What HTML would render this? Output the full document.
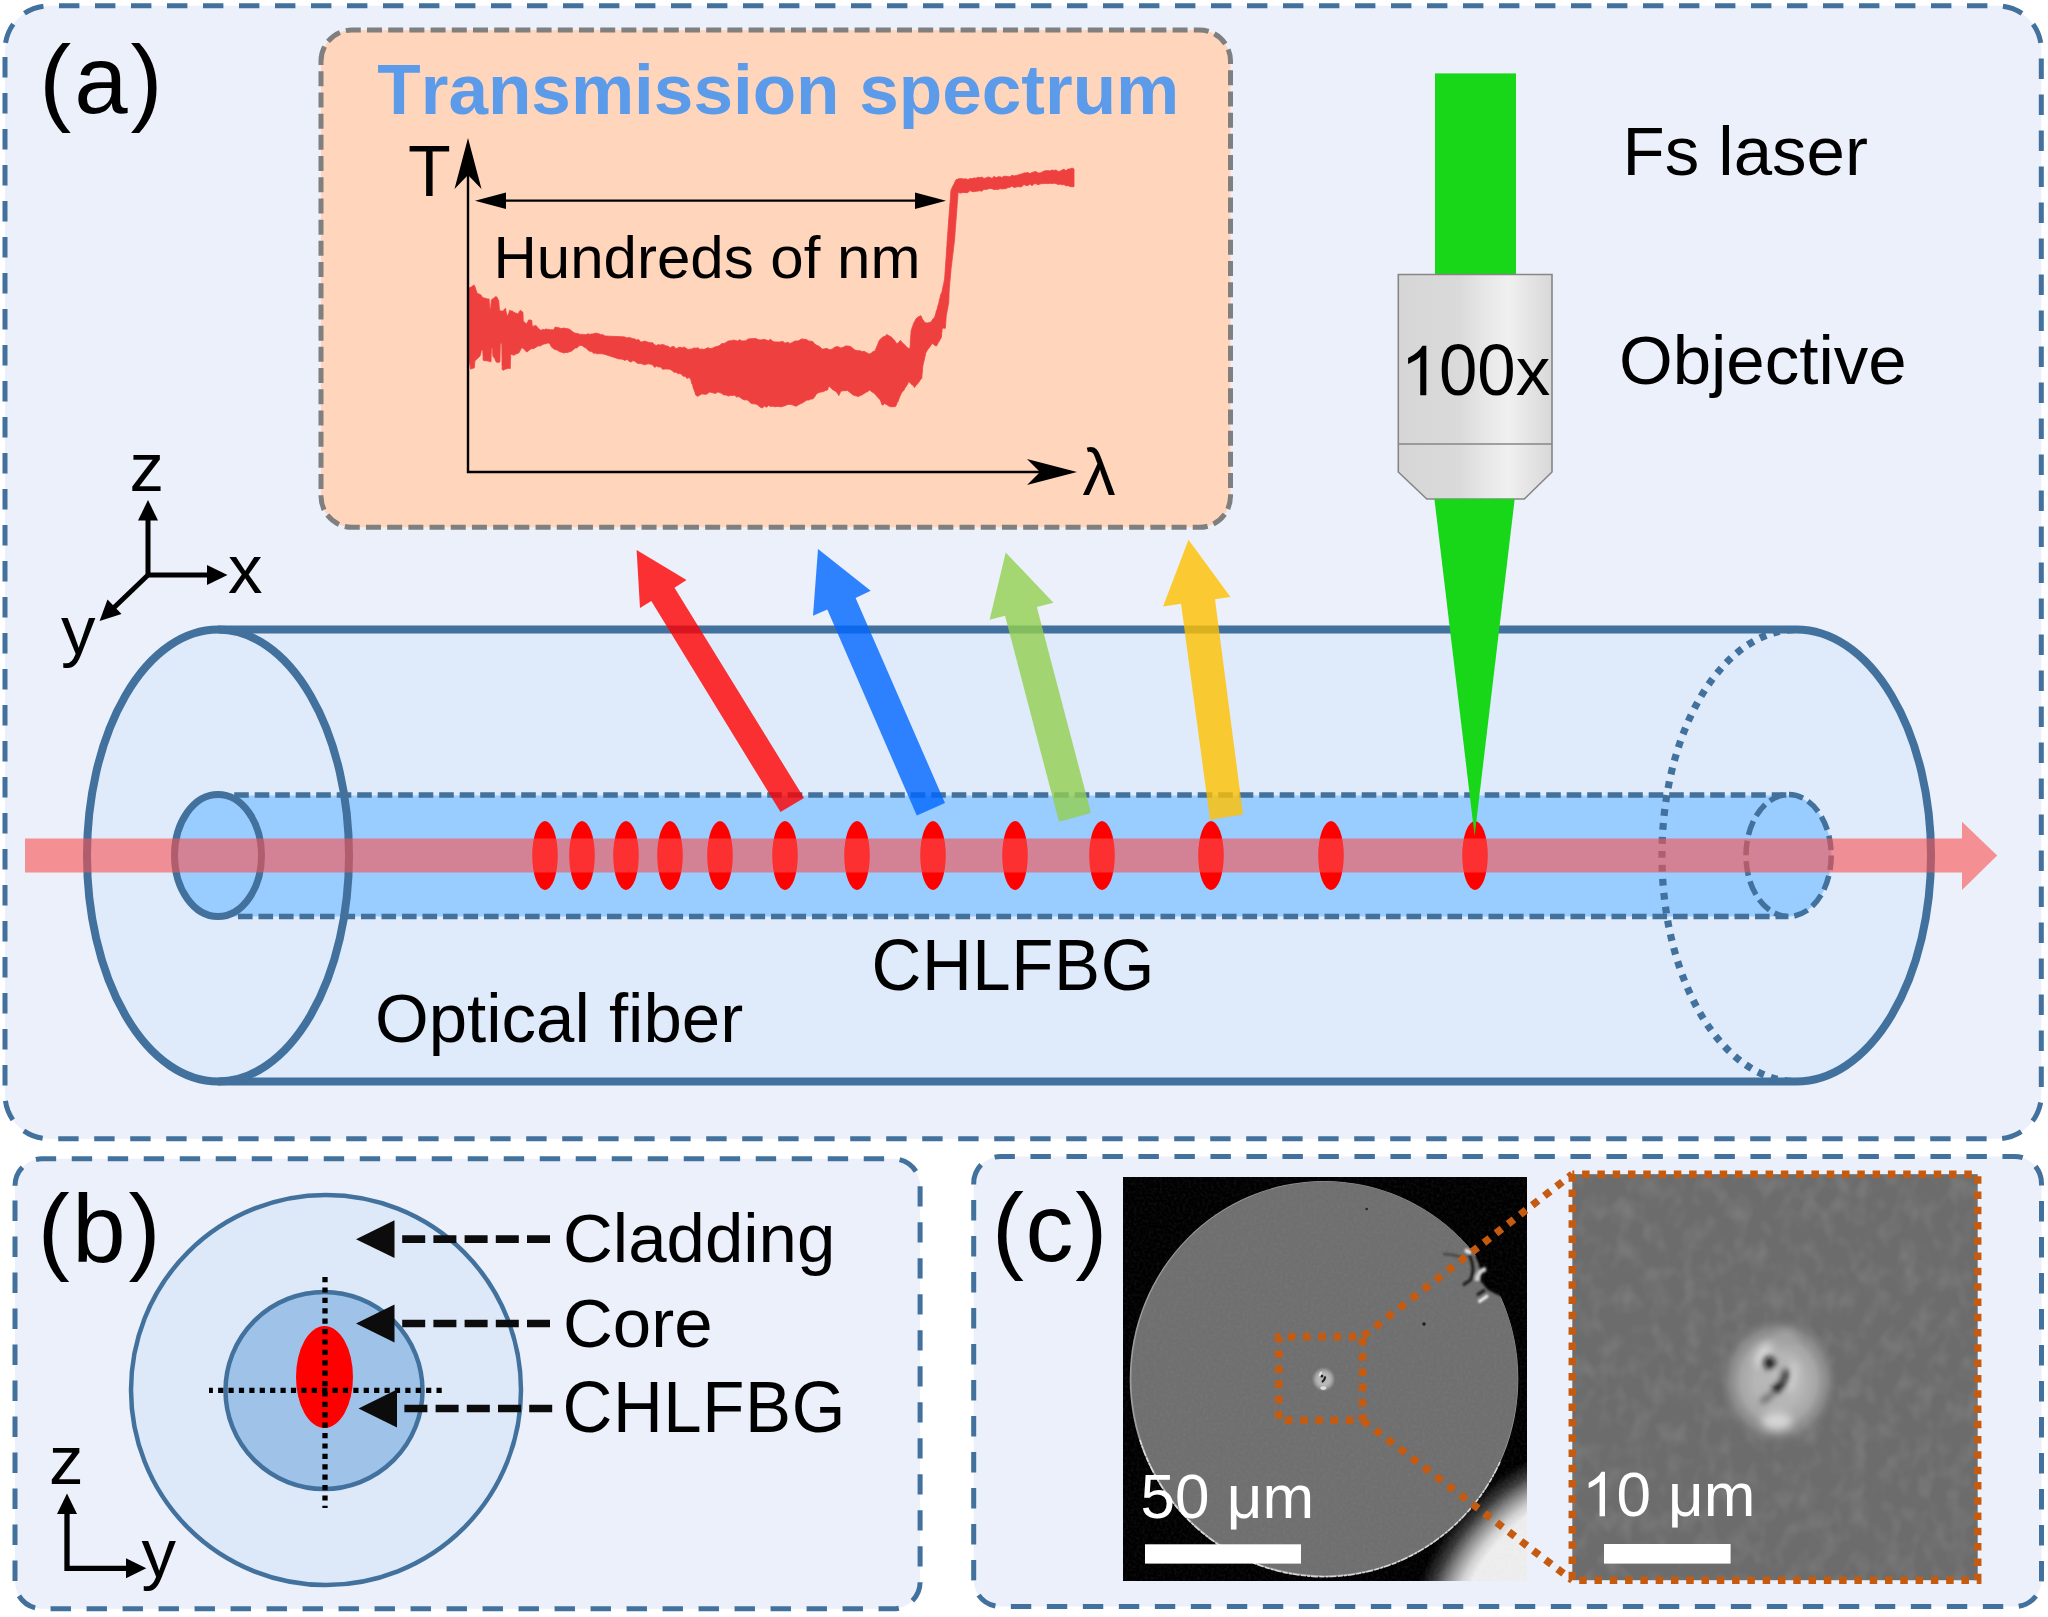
<!DOCTYPE html>
<html><head><meta charset="utf-8"><title>CHLFBG schematic</title>
<style>
html,body{margin:0;padding:0;background:#fff;}
body{width:2048px;height:1617px;overflow:hidden;font-family:"Liberation Sans",sans-serif;}
svg{display:block;}
text{font-family:"Liberation Sans",sans-serif;font-kerning:none;font-variant-ligatures:none;}
</style></head><body>
<svg width="2048" height="1617" viewBox="0 0 2048 1617">
<defs>
<linearGradient id="objg" x1="0" x2="1" y1="0" y2="0">
<stop offset="0" stop-color="#d6d6d6"/><stop offset="0.4" stop-color="#dadada"/><stop offset="0.55" stop-color="#e6e6e6"/><stop offset="0.72" stop-color="#f0f0f0"/><stop offset="0.86" stop-color="#e4e4e4"/><stop offset="1" stop-color="#d8d8d8"/>
</linearGradient>
<radialGradient id="halo" cx="0.5" cy="0.5" r="0.5">
<stop offset="0" stop-color="#b9b9b9"/><stop offset="0.4" stop-color="#b5b5b5"/><stop offset="0.62" stop-color="#a9a9a9" stop-opacity="0.95"/><stop offset="0.8" stop-color="#939393" stop-opacity="0.7"/><stop offset="1" stop-color="#6d6d6d" stop-opacity="0"/>
</radialGradient>
<radialGradient id="halo2" cx="0.5" cy="0.5" r="0.5">
<stop offset="0" stop-color="#b4b4b4"/><stop offset="0.45" stop-color="#b8b8b8"/><stop offset="0.68" stop-color="#a6a6a6" stop-opacity="0.9"/><stop offset="0.85" stop-color="#8a8a8a" stop-opacity="0.6"/><stop offset="1" stop-color="#6f6f6f" stop-opacity="0"/>
</radialGradient>
<radialGradient id="glow" gradientUnits="userSpaceOnUse" cx="1632" cy="1662" r="260">
<stop offset="0" stop-color="#efefef"/><stop offset="0.69" stop-color="#eeeeee"/><stop offset="0.725" stop-color="#d0d0d0"/><stop offset="0.772" stop-color="#8a8a8a"/><stop offset="0.82" stop-color="#383838"/><stop offset="0.875" stop-color="#000"/><stop offset="1" stop-color="#000"/>
</radialGradient>
<clipPath id="semclip"><rect x="1123" y="1177" width="404" height="404"/></clipPath>
<clipPath id="zclip"><rect x="1572.3" y="1174.2" width="405.4" height="406"/></clipPath>
<filter id="grain" x="0" y="0" width="1" height="1"><feTurbulence type="fractalNoise" baseFrequency="0.35" numOctaves="2" seed="3" result="n"/><feColorMatrix in="n" type="matrix" values="0 0 0 0 0.5  0 0 0 0 0.5  0 0 0 0 0.5  0.9 0 0 0 -0.33"/></filter>
<filter id="grain2" x="0" y="0" width="1" height="1"><feTurbulence type="fractalNoise" baseFrequency="0.06 0.045" numOctaves="2" seed="11" result="n"/><feColorMatrix in="n" type="matrix" values="0 0 0 0 0.52  0 0 0 0 0.52  0 0 0 0 0.52  1.2 0 0 0 -0.5"/></filter>
<filter id="b4" x="-100%" y="-100%" width="300%" height="300%"><feGaussianBlur stdDeviation="4.5"/></filter>
<filter id="b25" x="-100%" y="-100%" width="300%" height="300%"><feGaussianBlur stdDeviation="3.1"/></filter>
<filter id="b3" x="-50%" y="-50%" width="200%" height="200%"><feGaussianBlur stdDeviation="3"/></filter>
<filter id="b2" x="-50%" y="-50%" width="200%" height="200%"><feGaussianBlur stdDeviation="2"/></filter>
<filter id="b15" x="-50%" y="-50%" width="200%" height="200%"><feGaussianBlur stdDeviation="1.3"/></filter>
<filter id="b07" x="-50%" y="-50%" width="200%" height="200%"><feGaussianBlur stdDeviation="0.7"/></filter>
<filter id="b1" x="-50%" y="-50%" width="200%" height="200%"><feGaussianBlur stdDeviation="0.9"/></filter>
</defs>
<rect width="2048" height="1617" fill="#fff"/>

<!-- ================= PANEL A ================= -->
<path d="M5 49.8 A44 44 0 0 1 49 5.8 H1997.3 A44 44 0 0 1 2041.3 49.8 V1094.8 A44 44 0 0 1 1997.3 1138.8 H49 A44 44 0 0 1 5 1094.8 Z" fill="#ecf0fa" stroke="#41719c" stroke-width="5" stroke-dasharray="20.4 15.6" stroke-dashoffset="-7"/>
<text x="39.3" y="113" font-size="96" letter-spacing="2.9">(a)</text>

<!-- spectrum box -->
<path d="M321 61 A31 31 0 0 1 352 30 H1199.5 A31 31 0 0 1 1230.5 61 V496.29999999999995 A31 31 0 0 1 1199.5 527.3 H352 A31 31 0 0 1 321 496.29999999999995 Z" fill="#ffd5bb" stroke="#7f7f7f" stroke-width="5" stroke-dasharray="15 6.2"/>
<text x="377.3" y="114" font-size="71.1" font-weight="bold" fill="#5b9bea">Transmission spectrum</text>
<polygon points="468.4,288.4 469.9,287.4 471.4,287.1 472.8,285.6 474.3,285.2 474.8,286.5 475.3,287.6 475.8,289.5 476.3,290.5 476.8,292.3 477.3,293.4 479.1,294.1 481.0,295.1 482.1,297.0 483.2,297.8 485.2,298.2 487.1,298.9 489.1,299.0 489.2,300.6 489.3,302.2 489.4,303.8 489.5,305.4 489.6,307.0 489.7,308.6 490.6,308.6 490.8,306.8 490.9,305.0 491.1,303.3 491.2,301.5 491.4,299.8 493.0,298.7 494.6,297.4 496.2,296.4 497.1,297.6 497.9,299.2 498.8,301.2 498.9,302.8 499.0,304.4 499.1,306.0 499.3,307.6 499.4,309.2 499.5,310.6 501.4,311.1 503.3,311.0 504.4,309.2 505.5,308.3 505.8,309.8 506.1,311.7 506.4,313.1 506.7,314.2 507.0,316.0 507.8,315.6 508.4,314.1 509.0,312.6 509.6,310.2 511.0,311.0 512.4,311.1 513.9,312.3 515.3,313.0 516.7,313.3 518.1,314.2 519.2,311.8 520.3,310.3 521.6,311.3 522.9,312.3 523.0,314.1 523.1,315.9 523.1,317.6 523.2,319.4 523.3,321.4 524.8,322.3 526.3,324.4 527.0,322.8 527.8,321.7 528.5,320.0 530.1,319.9 531.8,320.5 531.9,322.5 532.1,324.4 532.2,326.4 534.0,325.9 535.9,325.6 537.2,326.8 538.5,328.7 539.8,329.3 541.1,330.6 542.6,329.3 544.2,329.8 545.8,329.0 547.4,329.3 548.9,329.4 550.5,329.8 552.1,329.7 553.7,329.8 555.2,327.0 556.8,327.4 558.5,327.5 560.1,328.3 561.8,328.6 563.4,328.1 565.1,328.3 566.7,328.6 568.4,328.9 570.0,329.4 571.3,330.7 572.5,331.6 573.8,332.6 575.4,333.2 577.0,333.4 578.6,333.8 580.1,334.4 581.7,334.4 583.3,334.4 584.9,334.7 586.5,334.6 588.1,333.7 589.7,334.4 591.2,334.0 592.8,333.9 594.4,333.6 596.0,333.0 597.5,333.5 599.0,333.7 600.5,334.7 602.0,334.6 603.5,335.1 605.0,336.0 623.0,336.8 625.0,337.1 626.9,337.9 628.9,337.6 630.8,337.9 632.8,338.7 634.8,338.9 636.7,340.0 638.7,339.6 640.6,342.0 642.6,341.8 644.6,341.1 646.5,341.7 648.5,342.3 650.4,342.8 652.4,342.6 654.4,344.7 656.3,345.5 658.3,344.6 660.2,345.1 662.2,344.5 664.2,344.9 666.1,345.9 668.1,346.1 670.0,347.9 672.0,346.7 674.0,346.4 676.0,348.8 678.0,347.8 680.0,347.0 682.0,348.0 684.0,346.9 686.0,348.2 688.0,349.4 690.0,349.2 692.0,348.9 694.0,347.9 696.0,348.2 698.0,347.8 700.0,349.4 702.0,348.9 704.0,349.6 706.0,348.6 708.0,347.7 709.9,348.5 711.9,348.4 713.9,347.4 715.8,346.7 717.8,346.2 719.8,345.4 721.7,343.5 723.7,343.6 725.7,342.7 727.6,341.3 729.6,340.7 731.6,340.7 733.5,340.0 735.5,340.5 737.5,341.0 739.6,339.7 741.6,340.8 743.7,340.9 745.7,340.7 747.7,339.2 749.8,338.8 751.8,338.7 753.8,338.6 755.9,338.5 757.9,339.5 760.0,340.0 762.0,339.8 764.1,339.3 766.2,340.0 768.3,340.7 770.4,339.3 772.5,341.0 774.5,341.9 776.6,341.9 778.7,342.1 780.8,341.8 782.9,341.4 785.0,343.2 787.5,342.2 790.0,343.4 792.0,342.7 793.9,341.4 795.9,340.9 797.8,341.0 799.8,340.1 801.7,338.9 804.0,339.2 806.4,339.6 808.7,340.9 811.0,341.2 812.7,341.5 814.3,343.5 816.0,344.9 817.6,345.6 819.3,346.4 822.2,349.2 824.7,348.7 827.1,348.5 829.5,349.7 832.0,349.3 834.0,347.7 835.9,346.7 838.3,346.8 840.8,348.0 843.2,347.3 845.7,345.9 848.1,346.1 850.5,346.4 852.1,347.6 853.8,349.3 855.4,350.2 857.6,350.7 859.8,350.6 862.0,351.7 864.2,351.3 866.7,352.7 869.1,354.1 871.1,353.3 873.0,351.6 875.0,351.0 876.0,348.4 876.9,346.3 877.9,344.1 878.8,341.4 879.8,339.7 881.5,338.2 883.2,336.8 885.0,336.5 886.7,334.5 889.2,335.9 891.6,337.2 892.9,338.7 894.2,340.1 895.6,342.0 896.9,343.8 898.6,342.6 900.4,340.3 902.0,342.5 903.6,343.8 905.2,345.4 907.5,347.7 909.9,349.1 910.0,347.2 910.2,345.4 910.3,343.6 910.4,341.0 910.6,339.2 910.7,337.0 910.8,335.0 911.0,333.2 911.1,330.9 911.7,329.1 912.3,327.1 912.9,325.7 913.5,323.4 914.8,321.2 916.0,318.8 918.5,316.7 920.9,315.7 921.9,318.0 922.8,319.8 923.8,320.9 924.8,322.7 927.7,322.9 930.6,322.2 931.9,320.6 933.2,318.6 934.5,317.5 935.1,315.7 935.7,313.9 936.3,311.1 936.9,309.8 937.5,307.8 938.0,305.2 938.5,304.2 939.0,302.3 939.4,299.5 939.9,298.4 940.4,295.8 941.0,293.9 941.7,292.6 942.3,290.4 942.8,287.5 943.2,285.7 943.7,283.7 944.1,281.4 944.6,279.2 944.7,277.2 944.9,275.4 945.0,272.9 945.2,271.1 945.3,269.0 945.5,266.7 945.6,264.8 945.7,262.9 945.9,260.7 946.0,258.4 946.2,256.9 946.3,254.7 946.4,252.7 946.6,250.1 946.7,248.1 946.9,245.9 947.0,244.3 947.1,241.9 947.3,239.8 947.4,237.9 947.6,236.1 947.7,233.9 947.9,231.5 948.0,229.4 948.2,227.8 948.3,225.5 948.5,223.5 948.6,221.0 948.8,218.9 948.9,217.2 949.1,215.0 949.3,212.7 949.4,211.1 949.6,208.8 949.7,206.9 949.9,204.3 950.1,202.7 950.2,200.2 950.4,198.6 950.5,196.2 950.7,194.1 950.8,192.1 951.0,190.3 952.0,187.9 953.0,185.8 954.0,184.0 955.0,181.8 956.0,179.8 958.0,179.0 960.0,178.6 962.0,178.8 964.0,179.0 966.0,178.8 968.0,179.7 970.0,178.5 972.0,178.8 974.0,177.9 976.0,178.2 978.0,177.2 980.0,177.7 982.0,176.9 984.0,178.5 986.0,177.9 988.0,176.9 990.0,177.5 992.0,178.4 994.0,176.3 996.0,177.8 998.0,176.8 1000.0,176.8 1002.0,177.4 1004.0,176.2 1006.0,176.3 1008.0,176.5 1010.0,176.9 1012.0,175.1 1014.0,176.0 1016.0,175.5 1018.0,175.1 1020.0,174.3 1022.0,173.9 1024.0,172.9 1026.0,172.9 1028.0,172.5 1030.0,173.8 1032.0,172.4 1034.0,171.9 1036.0,171.5 1038.0,173.1 1040.0,172.9 1042.0,172.2 1044.0,171.0 1046.0,170.7 1048.0,170.7 1050.0,170.9 1052.0,170.0 1054.0,170.5 1056.0,169.9 1058.0,171.4 1060.0,171.3 1062.0,170.1 1064.0,169.2 1066.0,170.8 1068.0,169.0 1070.0,169.0 1072.0,168.0 1074.0,169.0 1074.0,186.7 1072.0,186.7 1070.0,186.5 1068.0,185.5 1066.0,185.9 1064.0,184.5 1062.0,184.8 1060.0,184.1 1058.0,184.6 1056.0,183.5 1054.0,183.2 1052.0,183.6 1050.0,183.2 1048.0,183.7 1046.0,183.3 1044.0,183.6 1042.0,183.6 1040.0,184.0 1038.0,184.7 1036.0,183.7 1034.0,183.8 1032.0,185.7 1030.0,183.9 1028.0,185.5 1026.0,185.6 1024.0,184.4 1022.0,186.6 1020.0,186.9 1018.0,186.6 1016.0,187.1 1014.0,187.5 1012.0,186.1 1010.0,187.3 1008.0,187.5 1006.0,188.6 1004.0,188.7 1002.0,189.0 1000.0,188.6 998.0,189.6 996.0,189.3 994.0,189.6 992.0,188.7 990.0,188.4 988.0,188.9 986.0,189.6 984.0,189.2 982.0,191.2 980.0,190.7 978.0,191.1 976.0,191.3 974.0,191.7 972.0,191.5 970.0,190.5 968.0,192.6 966.0,192.7 964.0,192.4 962.0,192.6 960.0,193.2 958.0,192.0 957.9,195.2 957.7,196.9 957.6,198.8 957.4,200.9 957.3,203.2 957.1,205.0 957.0,207.3 956.8,209.5 956.7,211.2 956.5,213.1 956.4,215.2 956.2,217.4 956.1,219.4 955.9,221.4 955.8,223.4 955.6,225.1 955.5,227.2 955.3,229.2 955.2,231.6 955.0,233.3 954.9,235.5 954.7,237.2 954.6,239.2 954.4,241.4 954.1,243.6 953.9,245.6 953.6,247.6 953.4,249.4 953.2,251.5 952.9,253.5 952.7,255.5 952.4,257.3 952.2,259.7 952.0,261.3 951.7,263.8 951.5,265.8 951.2,267.2 951.0,269.5 950.8,271.7 950.6,273.9 950.5,275.6 950.3,277.6 950.1,279.6 949.9,282.1 949.7,283.7 949.6,285.9 949.4,287.7 949.2,290.0 949.1,292.1 949.0,294.2 949.0,296.4 948.9,298.5 948.8,300.6 948.7,302.8 948.3,304.7 947.9,307.2 947.5,309.0 947.1,310.9 946.7,313.0 946.3,315.4 946.1,317.5 946.0,319.6 945.8,321.8 945.6,323.9 945.5,326.0 945.3,328.3 942.3,328.1 942.1,330.3 941.8,332.5 941.6,334.7 941.4,337.4 940.4,339.0 939.4,341.1 938.5,342.2 937.5,344.2 936.5,346.1 934.5,345.3 932.6,343.3 931.3,344.8 930.0,346.7 928.7,348.3 927.2,350.5 925.7,353.0 925.2,356.0 924.7,357.5 924.2,360.4 923.8,361.7 923.3,363.8 922.8,366.2 922.6,368.5 922.4,370.9 922.2,373.2 922.0,375.6 921.8,378.3 920.3,379.9 918.9,382.1 917.4,384.0 916.0,385.4 914.5,387.5 913.0,385.2 911.6,384.5 910.2,382.7 908.7,381.6 907.5,384.2 906.2,386.4 905.0,387.9 903.8,390.6 902.5,391.4 901.3,393.5 900.5,395.2 899.6,397.0 898.8,399.4 898.0,401.6 897.2,402.6 896.3,405.0 895.5,406.5 892.5,406.8 889.6,406.6 887.2,404.9 884.7,403.4 882.8,405.3 881.9,404.4 881.1,402.0 880.2,399.9 879.4,398.9 877.6,397.3 875.9,394.9 873.8,393.1 871.7,391.7 869.6,390.1 867.8,391.5 866.0,392.3 864.1,393.6 862.3,394.7 860.3,395.6 858.4,396.5 855.7,395.8 853.0,394.9 851.2,393.4 849.4,392.1 847.6,390.5 845.3,390.7 843.1,390.7 840.8,391.3 838.8,395.6 837.3,392.9 835.9,391.6 834.1,390.4 832.2,389.3 830.4,387.2 828.6,386.2 828.1,388.1 827.6,390.0 825.5,390.5 823.5,391.6 821.4,391.9 819.3,392.4 817.7,393.0 816.1,394.6 814.5,397.1 812.9,398.9 810.9,399.1 808.8,400.1 806.8,400.1 804.7,401.4 802.7,402.8 800.4,403.8 798.2,405.0 795.9,406.3 793.0,405.1 790.0,404.3 787.5,404.6 785.0,405.7 783.0,406.2 780.9,406.9 778.9,406.5 776.8,406.4 774.8,406.8 772.7,406.2 770.6,406.5 768.6,405.4 766.5,407.3 764.5,406.1 762.4,407.9 760.4,407.3 758.4,405.6 756.5,404.3 754.5,403.8 752.5,403.8 750.6,403.1 748.6,400.8 746.7,399.8 744.7,400.0 742.7,399.3 740.8,397.9 738.8,396.6 736.7,397.1 734.6,395.2 732.5,395.5 730.4,395.4 728.3,396.1 726.1,394.9 724.0,395.0 721.9,393.6 719.8,392.6 717.7,392.1 715.6,393.4 713.6,393.1 711.6,392.5 709.6,392.1 707.6,393.6 705.6,394.4 703.6,394.1 701.6,394.0 699.6,395.3 697.6,396.3 695.6,394.9 695.0,392.4 694.4,391.1 693.8,389.2 693.2,387.7 692.5,384.5 691.9,383.9 691.3,381.6 690.7,379.0 688.9,377.5 687.0,378.5 685.2,376.1 683.4,376.4 681.5,374.2 679.7,373.4 677.9,373.8 676.1,371.9 674.2,372.6 672.4,370.7 670.4,369.5 668.5,369.1 666.5,369.0 664.5,369.1 662.6,369.3 660.6,366.9 658.6,367.0 656.7,366.1 654.7,367.4 652.8,365.0 650.8,364.3 648.8,363.8 646.9,364.1 644.9,364.8 642.9,364.3 641.0,363.4 639.0,363.6 637.0,363.1 635.0,361.3 633.0,360.6 631.0,362.1 629.0,361.3 627.0,359.2 625.0,360.4 623.0,359.4 621.0,359.0 619.0,359.0 605.0,354.4 603.4,354.1 601.8,353.7 600.2,353.7 598.6,353.6 597.0,354.0 595.4,352.9 593.8,353.6 592.5,352.1 591.1,351.5 589.8,351.2 588.4,350.5 587.1,349.3 585.6,347.8 584.2,347.2 582.7,346.0 581.2,345.4 579.7,345.6 578.2,346.6 576.8,348.0 575.3,348.1 573.8,349.3 572.3,350.6 570.8,351.5 569.3,351.7 567.8,352.6 565.8,352.4 563.9,353.1 561.9,352.2 560.5,352.0 559.2,351.5 557.8,350.4 556.4,349.7 555.0,349.7 553.7,348.7 552.3,347.8 551.3,346.7 550.3,344.8 549.3,343.3 547.6,343.0 545.8,343.8 544.1,343.9 542.2,344.7 540.4,346.1 538.9,345.7 537.4,346.4 536.0,347.2 534.5,348.2 533.0,348.7 531.5,348.6 530.0,349.6 528.5,350.8 527.0,352.0 525.7,351.2 524.4,349.3 523.1,348.7 521.8,347.4 521.0,349.0 520.3,350.4 519.5,351.7 518.8,352.9 517.3,353.5 515.8,354.1 514.4,355.1 512.9,355.0 510.7,353.9 510.7,355.5 510.6,357.0 510.6,358.6 510.5,360.2 510.5,361.7 510.4,363.3 510.4,364.9 510.3,366.4 510.3,368.5 508.6,368.3 506.8,368.7 505.1,369.2 503.3,370.2 502.1,369.5 502.1,368.0 502.1,366.4 502.0,364.9 502.0,363.4 502.0,361.9 502.0,360.3 502.0,358.8 502.0,357.3 501.9,355.7 501.9,354.2 501.9,352.7 501.9,351.1 501.9,349.6 501.9,348.1 501.8,346.6 501.8,345.0 501.8,343.2 500.3,343.5 500.3,345.0 500.2,346.6 500.2,348.1 500.2,349.7 500.1,351.2 500.1,352.8 500.1,354.3 500.0,355.8 500.0,357.4 500.0,358.9 499.9,360.5 499.9,362.0 498.2,362.3 496.6,362.3 495.7,360.9 494.8,358.6 493.8,357.4 492.9,356.1 492.8,354.5 492.7,352.9 492.7,351.2 492.6,349.6 492.5,348.0 491.4,348.0 491.4,349.6 491.3,351.1 491.3,352.7 491.2,354.2 491.2,355.8 491.1,357.3 491.1,358.9 491.0,360.4 491.0,361.9 489.4,361.3 487.9,361.0 486.3,360.7 484.8,360.7 483.2,360.2 483.1,358.5 483.1,356.9 483.0,355.2 482.9,353.5 482.9,351.9 482.8,350.0 481.4,350.2 481.1,351.7 480.8,353.1 480.5,354.6 480.2,355.7 478.9,357.1 477.6,358.4 476.3,359.6 475.0,360.6 474.8,362.5 474.6,364.3 474.5,366.1 474.3,367.8 472.5,368.4 470.6,369.1 470.3,367.5 470.1,366.0 469.8,364.4 469.5,362.8 468.9,361.0 468.4,359.1" fill="#ef4040" stroke="#ef4040" stroke-width="0.8" stroke-linejoin="round"/>
<!-- axes -->
<path d="M468 150 V472 H1060" fill="none" stroke="#000" stroke-width="2.4"/>
<path d="M468 138 L481.5 189 L468 175 L454.5 189 Z" fill="#000"/>
<path d="M1077 472 L1027 459 L1040 472 L1027 485 Z" fill="#000"/>
<text transform="translate(408 196) scale(1 1.04)" font-size="70">T</text>
<text x="1082.5" y="494.5" font-size="66">λ</text>
<!-- double arrow -->
<path d="M500 200.7 H920" stroke="#000" stroke-width="2.2"/>
<path d="M475 200.7 L506 192.5 V209 Z" fill="#000"/>
<path d="M946 200.7 L915 192.5 V209 Z" fill="#000"/>
<text x="493.5" y="277.7" font-size="60">Hundreds of nm</text>

<!-- laser + objective -->
<rect x="1435" y="73.4" width="81" height="202" fill="#18d618"/>
<path d="M1398.3 274.5 H1552 V472 L1524.3 499 H1426.8 L1398.3 472 Z" fill="url(#objg)" stroke="#868686" stroke-width="1.6"/>
<path d="M1398.3 444 H1552" stroke="#868686" stroke-width="1.6"/>
<path d="M763 0H583V1147Q518 1085 412.5 1023Q307 961 223 930V1104Q374 1175 487 1276Q600 1377 647 1472H763Z" transform="translate(1400.6 395.3) scale(0.03369140625 -0.03369140625)" fill="#000"/>
<text transform="translate(1439 395.3) scale(1 1.04)" font-size="69">00</text>
<text x="1515.7" y="395.3" font-size="69">x</text>
<text x="1622.5" y="174.5" font-size="69">Fs laser</text>
<text x="1619" y="384" font-size="69">Objective</text>

<!-- xyz axes -->
<g stroke="#000" stroke-width="5" fill="#000">
<path d="M148 575 V518" /><path d="M148 575 H208"/><path d="M148 575 L112 609.5"/>
<path d="M148 500 L158 520.5 H138 Z" stroke="none"/>
<path d="M227.5 575 L207 585 V565 Z" stroke="none"/>
<path d="M99.6 621 L107.5 599.5 L121.5 614 Z" stroke="none"/>
</g>
<text x="129.5" y="491" font-size="69">z</text>
<text x="228" y="592.5" font-size="69">x</text>
<text x="61" y="653.5" font-size="69">y</text>

<!-- fiber -->
<path d="M218 629.5 H1796.5 A134.6 226 0 0 1 1796.5 1081.5 H218 A131 226 0 0 1 218 629.5 Z" fill="#dfebfb"/>
<path d="M218 795.5 H1788.6 A43 60.5 0 0 1 1788.6 916.5 H218 A44 60.5 0 0 1 218 795.5Z" fill="#99ccff"/>
<g fill="none" stroke="#41719c">
<path d="M218 629.5 H1796.5 A134.6 226 0 0 1 1796.5 1081.5 H218" stroke-width="8"/>
<ellipse cx="218" cy="855.5" rx="131" ry="226" stroke-width="8"/>
<path d="M1796.5 629.5 A134.6 226 0 0 0 1796.5 1081.5" stroke-width="7.2" stroke-dasharray="6.8 7.2" stroke-dashoffset="-3"/>
<ellipse cx="218" cy="855.5" rx="43.5" ry="61" stroke-width="7"/>
<path d="M234.2 795 H1787" stroke-width="5.5" stroke-dasharray="14.6 5.9"/>
<path d="M238 916.5 H1787" stroke-width="5.5" stroke-dasharray="14.6 5.9"/>
<ellipse cx="1788.6" cy="855.5" rx="42.6" ry="61" stroke-width="5.5" stroke-dasharray="14.6 5.9"/>
</g>
<g fill="#ff0000"><ellipse cx="545" cy="855.5" rx="12.8" ry="34.5"/><ellipse cx="582" cy="855.5" rx="12.8" ry="34.5"/><ellipse cx="626" cy="855.5" rx="12.8" ry="34.5"/><ellipse cx="670" cy="855.5" rx="12.8" ry="34.5"/><ellipse cx="720" cy="855.5" rx="12.8" ry="34.5"/><ellipse cx="785" cy="855.5" rx="12.8" ry="34.5"/><ellipse cx="857" cy="855.5" rx="12.8" ry="34.5"/><ellipse cx="933" cy="855.5" rx="12.8" ry="34.5"/><ellipse cx="1015" cy="855.5" rx="12.8" ry="34.5"/><ellipse cx="1102" cy="855.5" rx="12.8" ry="34.5"/><ellipse cx="1211" cy="855.5" rx="12.8" ry="34.5"/><ellipse cx="1331" cy="855.5" rx="12.8" ry="34.5"/><ellipse cx="1475" cy="855.5" rx="12.8" ry="34.5"/></g>
<!-- colored arrows -->
<polygon points="636.6,550 686.5,580 674.5,587.7 804,798 780.5,812 651.3,601 640,608" fill="#ff0000" fill-opacity="0.8"/>
<polygon points="818,549 870.7,590.7 855.6,598 945,803 916.8,815.6 827.3,609.5 813,615.7" fill="#0066ff" fill-opacity="0.8"/>
<polygon points="1005.7,552.5 1053.5,602.7 1036.8,607 1091,813 1059,821.8 1005,615.7 989.6,619.8" fill="#92d050" fill-opacity="0.8"/>
<polygon points="1188.5,539.8 1230.5,597 1215,599.3 1243,814.6 1210,819.7 1181,603.7 1163,606.5" fill="#ffc000" fill-opacity="0.8"/>
<polygon points="1434.4,499 1514.7,499 1474.6,836" fill="#18d618"/>
<!-- beam -->
<path d="M25 838.5 H1962 V821.7 L1997.2 855.5 L1962 890 V872.5 H25 Z" fill="#fa5050" fill-opacity="0.6"/>
<text transform="translate(871.5 990) scale(1 1.04)" font-size="69" letter-spacing="0.6">CHLFBG</text>
<text x="375" y="1042" font-size="69">Optical fiber</text>

<!-- ================= PANEL B ================= -->
<path d="M15 1185.8 A27 27 0 0 1 42 1158.8 H893.1 A27 27 0 0 1 920.1 1185.8 V1581.8 A27 27 0 0 1 893.1 1608.8 H42 A27 27 0 0 1 15 1581.8 Z" fill="#ecf0fa" stroke="#41719c" stroke-width="5" stroke-dasharray="20.4 15.6"/>
<text x="37.7" y="1262.3" font-size="96" letter-spacing="2.7">(b)</text>
<circle cx="326" cy="1390" r="195" fill="#dde9f8" stroke="#41719c" stroke-width="4.5"/>
<circle cx="324" cy="1390.5" r="98.5" fill="#9fc3e8" stroke="#41719c" stroke-width="4.5"/>
<ellipse cx="324.5" cy="1377" rx="28.5" ry="51" fill="#ff0000"/>
<path d="M325 1277 V1508" stroke="#000" stroke-width="5.3" stroke-dasharray="5.2 5.2"/>
<path d="M441.7 1390.4 H209" stroke="#000" stroke-width="5.3" stroke-dasharray="5.2 5.2"/>
<g fill="#0c0c0c" stroke="#0c0c0c">
<path d="M356 1239.2 L394.5 1220.3 V1258.1 Z" stroke="none"/><path d="M550 1239.2 H393" stroke-width="7.7" stroke-dasharray="23 8.2"/>
<path d="M356 1323.5 L394.5 1304.6 V1342.4 Z" stroke="none"/><path d="M550 1323.5 H393" stroke-width="7.7" stroke-dasharray="23 8.2"/>
<path d="M358.5 1408.5 L397 1389.6 V1427.4 Z" stroke="none"/><path d="M552.2 1408.5 H395" stroke-width="7.7" stroke-dasharray="23 8.2"/>
</g>
<text x="563" y="1262" font-size="69">Cladding</text>
<text x="563" y="1347" font-size="69">Core</text>
<text transform="translate(562.5 1432) scale(1 1.04)" font-size="69" letter-spacing="0.6">CHLFBG</text>
<text x="49" y="1484" font-size="69">z</text>
<text x="141.5" y="1576.5" font-size="69">y</text>
<g stroke="#000" stroke-width="5.3" fill="#000">
<path d="M67 1513 V1568.3 H127" fill="none" stroke-linejoin="miter"/>
<path d="M67 1493.5 L77 1514 H57 Z" stroke="none"/>
<path d="M146.3 1568.3 L126 1578.3 V1558.3 Z" stroke="none"/>
</g>

<!-- ================= PANEL C ================= -->
<path d="M973.7 1183.4 A27 27 0 0 1 1000.7 1156.4 H2014.5 A27 27 0 0 1 2041.5 1183.4 V1579.6 A27 27 0 0 1 2014.5 1606.6 H1000.7 A27 27 0 0 1 973.7 1579.6 Z" fill="#ecf0fa" stroke="#41719c" stroke-width="5" stroke-dasharray="20.4 15.6"/>
<text x="992" y="1261.3" font-size="96" letter-spacing="1.6">(c)</text>
<g clip-path="url(#semclip)">
<rect x="1123" y="1177" width="404" height="404" fill="#000"/>
<rect x="1350" y="1420" width="177" height="161" fill="url(#glow)"/>
<ellipse cx="1324" cy="1379" rx="194.3" ry="198" fill="#9c9c9c"/>
<ellipse cx="1324.6" cy="1378.4" rx="193.2" ry="197" fill="#6f6f6f"/>
<path d="M1140 1440 A193.6 197.4 0 0 0 1500 1462" fill="none" stroke="#e6e6e6" stroke-width="1.6" stroke-dasharray="5 1.2 3 0.8 7 1.5" opacity="0.85"/>
<path d="M1499 1248 L1475 1256 Q1482 1268 1480.5 1281 L1488 1290 L1502 1297 Z" fill="#000" filter="url(#b1)"/>
<rect x="1123" y="1177" width="404" height="404" filter="url(#grain)" opacity="0.17"/>
<ellipse cx="1323.6" cy="1379.3" rx="12.5" ry="13" fill="url(#halo2)"/>
<g filter="url(#b07)"><circle cx="1321.9" cy="1375.9" r="1.5" fill="#222"/><path d="M1325 1377.3 Q1324.8 1379.8 1322.6 1381.6" stroke="#161616" stroke-width="2" stroke-linecap="round" fill="none"/><ellipse cx="1323.3" cy="1388" rx="3" ry="1.8" fill="#e0e0e0"/><ellipse cx="1320.4" cy="1374" rx="1.2" ry="2.6" fill="#e4e4e4" transform="rotate(28 1320.4 1374)"/></g>
<circle cx="1424" cy="1324" r="1.7" fill="#1c1c1c"/><circle cx="1366.7" cy="1209" r="1.3" fill="#262626"/>
<g filter="url(#b15)" fill="none"><path d="M1443 1254 q10 0 20 4" stroke="#4c4c4c" stroke-width="3"/><path d="M1468.5 1253 Q1476 1268 1470.5 1280 L1463 1285" stroke="#1c1c1c" stroke-width="3"/><path d="M1465 1250 l6 3" stroke="#e8e8e8" stroke-width="4"/><path d="M1477 1281 q0 -10 9 -12" stroke="#cfcfcf" stroke-width="4.5"/><path d="M1477 1295 l8 -5" stroke="#1a1a1a" stroke-width="3"/><path d="M1478.5 1302 l9.5 -6.5" stroke="#f4f4f4" stroke-width="3.2"/></g>
</g>
<rect x="1145" y="1544.3" width="156" height="19.3" fill="#fff"/>
<text transform="translate(1140.5 1518.2) scale(1 1.028)" font-size="62" fill="#fff">50</text>
<text x="1226.7" y="1518.2" font-size="62" fill="#fff">μm</text>
<!-- zoomed -->
<rect x="1572.3" y="1174.2" width="405.4" height="406" fill="#6c6c6c"/>
<rect x="1572.3" y="1174.2" width="405.4" height="406" filter="url(#grain2)" opacity="0.3"/>
<g clip-path="url(#zclip)">
<ellipse cx="1778.5" cy="1381" rx="61" ry="66" fill="url(#halo)"/>
<g filter="url(#b4)"><ellipse cx="1763" cy="1355" rx="6" ry="13" fill="#dcdcdc" transform="rotate(28 1763 1355)"/><ellipse cx="1777" cy="1421" rx="15" ry="9" fill="#d6d6d6"/><ellipse cx="1792" cy="1377" rx="4.5" ry="16" fill="#d2d2d2" transform="rotate(8 1792 1377)"/><ellipse cx="1786" cy="1338" rx="10" ry="7" fill="#a2a2a2"/></g>
<g filter="url(#b25)"><ellipse cx="1769.5" cy="1363" rx="5.5" ry="6.5" fill="#0a0a0a" transform="rotate(-20 1769.5 1363)"/><path d="M1784.5 1373 Q1783 1383 1775.5 1390" stroke="#000" stroke-width="7" stroke-linecap="round" fill="none"/><path d="M1763 1401 l7 -5" stroke="#6a6a6a" stroke-width="6" stroke-linecap="round"/><ellipse cx="1777" cy="1375" rx="3" ry="4" fill="#c8c8c8"/></g>
</g>
<rect x="1604" y="1544" width="126.6" height="19.6" fill="#fff"/>
<path d="M763 0H583V1147Q518 1085 412.5 1023Q307 961 223 930V1104Q374 1175 487 1276Q600 1377 647 1472H763Z" transform="translate(1581.9 1516.2) scale(0.0302734375 -0.0302734375)" fill="#fff"/>
<text transform="translate(1616.4 1516.2) scale(1 1.028)" font-size="62" fill="#fff">0</text>
<text x="1668.1" y="1516.2" font-size="62" fill="#fff">μm</text>
<g fill="none" stroke="#c55a11" stroke-width="7.5">
<rect x="1278.8" y="1336.7" width="83.7" height="83.5" stroke-dasharray="7.5 7.72" stroke-dashoffset="6.2"/>
<rect x="1572.3" y="1174.2" width="405.4" height="406" stroke-dasharray="7.5 7.79" stroke-dashoffset="5.5"/>
<path d="M1362.5 1336.7 L1572.3 1174.2" stroke-dasharray="7.5 7.8" stroke-dashoffset="-0.5"/>
<path d="M1362.5 1420.2 L1572.3 1580.2" stroke-dasharray="7.5 7.8" stroke-dashoffset="-0.5"/>
</g>
</svg>
</body></html>
